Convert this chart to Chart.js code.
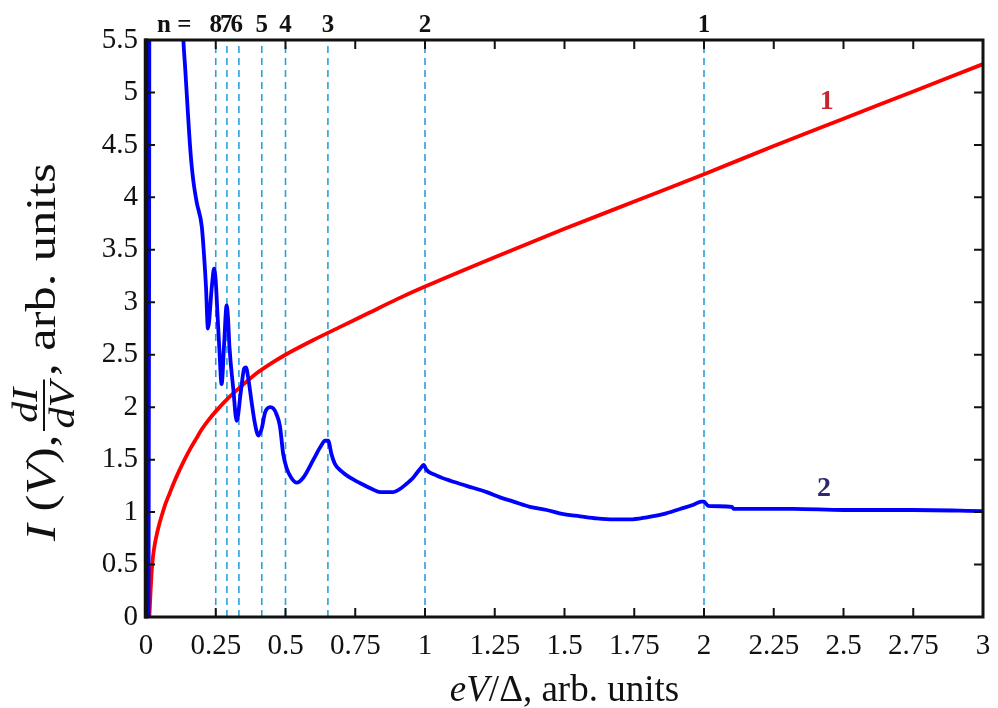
<!DOCTYPE html>
<html><head><meta charset="utf-8">
<script src="https://cdn.jsdelivr.net/npm/chart.js@4.4.0/dist/chart.umd.min.js"></script>
<style>html,body{margin:0;padding:0;background:#fff;}</style>
</head><body>
<canvas id="c" width="998" height="708"></canvas>
<script>
// ---- data ----
const redX = [0.012,0.016,0.02,0.024,0.03,0.038,0.047,0.058,0.07,0.085,0.1,0.12,0.14,0.16,0.18,0.2,0.225,0.25,0.3,0.35,0.4,0.45,0.5,0.6,0.7,0.8,0.9,1.0,1.25,1.5,1.75,2.0,2.25,2.5,2.75,3.0];
const redY = [0,0.22,0.42,0.55,0.67,0.78,0.88,0.98,1.08,1.18,1.28,1.4,1.51,1.61,1.7,1.79,1.88,1.96,2.1,2.22,2.33,2.42,2.5,2.64,2.77,2.9,3.03,3.15,3.43,3.7,3.96,4.22,4.49,4.75,5.01,5.27];

const blueX = [0.009,0.011,0.013,0.12,0.134,0.14,0.148,0.155,0.162,0.17,0.182,0.2,0.208,0.215,0.222,0.236,0.244,0.25,0.256,0.263,0.271,0.28,0.289,0.294,0.299,0.313,0.325,0.34,0.352,0.358,0.368,0.379,0.39,0.403,0.415,0.427,0.445,0.456,0.468,0.48,0.492,0.504,0.52,0.54,0.564,0.6,0.625,0.642,0.653,0.665,0.677,0.7,0.719,0.75,0.779,0.81,0.839,0.886,0.91,0.934,0.955,0.97,0.985,0.995,1.006,1.04,1.078,1.149,1.221,1.269,1.317,1.376,1.436,1.496,1.556,1.615,1.675,1.735,1.795,1.854,1.914,1.962,1.99,2.0,2.015,2.1,2.106,2.32,2.5,2.75,3.0];
const blueY = [0,3,8,6.6,5.5,5.25,4.9,4.6,4.35,4.15,3.95,3.72,3.45,3.15,2.75,3.15,3.32,3.2,2.9,2.55,2.22,2.6,2.97,2.85,2.58,2.17,1.87,2.15,2.37,2.38,2.25,2.04,1.85,1.73,1.8,1.95,2.0,1.99,1.93,1.82,1.55,1.42,1.33,1.28,1.33,1.5,1.62,1.68,1.68,1.55,1.46,1.39,1.35,1.3,1.26,1.22,1.19,1.19,1.22,1.27,1.32,1.37,1.42,1.45,1.4,1.35,1.31,1.25,1.19,1.14,1.1,1.05,1.02,0.98,0.96,0.94,0.93,0.93,0.95,0.98,1.03,1.07,1.1,1.1,1.06,1.05,1.03,1.03,1.02,1.02,1.01];

const nLabels = ['8','7','6','5','4','3','2','1'];
const nPositions = [0.25,0.29,0.333,0.415,0.5,0.652,1,2];

const curveLabels = ['1','2'];
const curveLabelX = [2.44,2.43];
const curveLabelY = [4.91,1.22];
const curveLabelColors = ['#c9232b','#2c2a6e'];

const xMin = 0, xMax = 3, xStep = 0.25;
const yMin = 0, yMax = 5.5, yStep = 0.5;

// ---- chart ----
const SERIF = "'Liberation Serif','Times New Roman',serif";
const pts = (xs, ys) => xs.map((x, i) => ({x, y: ys[i]}));
const fmt = v => String(Math.round(v * 100) / 100);

const datasets = [
  {label:'2', data: pts(blueX, blueY), borderColor:'#0000ff', borderWidth:3.8, pointRadius:0, cubicInterpolationMode:'monotone', order:0, clip:0},
  {label:'1', data: pts(redX, redY), borderColor:'#ff0000', borderWidth:3.8, pointRadius:0, cubicInterpolationMode:'monotone', order:1, clip:0}
];
nPositions.forEach((p, i) => {
  datasets.push({label:'n'+nLabels[i], data:[{x:p,y:yMin},{x:p,y:yMax}], borderColor:'#2f9fd6', borderWidth:1.6, borderDash:[7,5], pointRadius:0, order:5, clip:0});
});

function drawPieces(ctx, pieces, x, y) {
  let cx = x;
  pieces.forEach(p => { ctx.font = p.font; ctx.fillText(p.t, cx, y); cx += ctx.measureText(p.t).width; });
  return cx;
}
function piecesWidth(ctx, pieces) {
  let w = 0;
  pieces.forEach(p => { ctx.font = p.font; w += ctx.measureText(p.t).width; });
  return w;
}

const decor = {
  id:'decor',
  afterDraw(chart) {
    const ctx = chart.ctx, a = chart.chartArea;
    const xs = chart.scales.x, ys = chart.scales.y;
    ctx.save();
    ctx.strokeStyle = '#111'; ctx.fillStyle = '#111';
    ctx.lineWidth = 2;
    const tl = 9;
    xs.ticks.forEach(t => {
      const px = xs.getPixelForValue(t.value);
      ctx.beginPath();
      ctx.moveTo(px, a.bottom); ctx.lineTo(px, a.bottom - tl);
      ctx.moveTo(px, a.top); ctx.lineTo(px, a.top + tl);
      ctx.stroke();
    });
    ys.ticks.forEach(t => {
      const py = ys.getPixelForValue(t.value);
      ctx.beginPath();
      ctx.moveTo(a.left, py); ctx.lineTo(a.left + tl, py);
      ctx.moveTo(a.right, py); ctx.lineTo(a.right - tl, py);
      ctx.stroke();
    });
    ctx.lineWidth = 3;
    ctx.strokeRect(a.left, a.top, a.right - a.left, a.bottom - a.top);
    ctx.lineWidth = 4.5;
    ctx.beginPath(); ctx.moveTo(a.left, a.top - 1.5); ctx.lineTo(a.left, a.bottom + 1.5); ctx.stroke();

    // top n labels
    ctx.textBaseline = 'alphabetic';
    ctx.font = 'bold 25px ' + SERIF;
    ctx.textAlign = 'left';
    ctx.fillText('n =', 157, 32);
    ctx.textAlign = 'center';
    let prev = -1e9;
    nPositions.forEach((p, i) => {
      let px = xs.getPixelForValue(p);
      if (px <= prev + 13.5) px = Math.max(px - 3, prev + 10.5);
      ctx.fillText(nLabels[i], px, 32);
      prev = px;
    });

    // curve labels
    ctx.font = 'bold 28px ' + SERIF;
    ctx.textBaseline = 'middle';
    curveLabels.forEach((l, i) => {
      ctx.fillStyle = curveLabelColors[i];
      ctx.fillText(l, xs.getPixelForValue(curveLabelX[i]), ys.getPixelForValue(curveLabelY[i]));
    });

    // x axis title
    ctx.fillStyle = '#111';
    ctx.textBaseline = 'alphabetic';
    ctx.textAlign = 'left';
    const it = 'italic 37px ' + SERIF, rg = '37px ' + SERIF;
    const xt = [{t:'e',font:it},{t:'V',font:it},{t:'/',font:rg},{t:'\u0394',font:rg},{t:', arb. units',font:rg}];
    const w = piecesWidth(ctx, xt);
    drawPieces(ctx, xt, (a.left + a.right) / 2 - w / 2, 701);

    // y axis title (rotated, slightly stretched along its length as in the reference)
    const yit = 'italic 42px ' + SERIF, yrg = '42px ' + SERIF;
    const p1 = [{t:'I',font:yit},{t:' (',font:yrg},{t:'V',font:yit},{t:'),',font:yrg}];
    const p3 = [{t:', arb. units',font:yrg}];
    const fr = 'italic 35px ' + SERIF;
    ctx.font = fr;
    const numW = ctx.measureText('dI').width, denW = ctx.measureText('dV').width;
    const fracW = Math.max(numW, denW) + 10;
    const stretch = 1.2;
    const total = (piecesWidth(ctx, p1) + fracW + piecesWidth(ctx, p3)) * stretch;
    ctx.translate(55, 352 + total / 2);
    ctx.rotate(-Math.PI / 2);
    ctx.scale(stretch, 1);
    let cx = drawPieces(ctx, p1, 0, 0);
    ctx.font = fr;
    ctx.textAlign = 'center';
    const fc = cx + fracW / 2;
    ctx.fillText('dI', fc, -18);
    ctx.fillText('dV', fc, 19);
    ctx.lineWidth = 2;
    ctx.beginPath(); ctx.moveTo(fc - fracW / 2 + 3, -11); ctx.lineTo(fc + fracW / 2 - 3, -11); ctx.stroke();
    ctx.textAlign = 'left';
    drawPieces(ctx, p3, cx + fracW, 0);
    ctx.restore();
  }
};

new Chart(document.getElementById('c'), {
  type: 'line',
  data: { datasets },
  options: {
    responsive: false,
    animation: false,
    devicePixelRatio: 1,
    layout: { padding: 0 },
    plugins: { legend: { display: false }, tooltip: { enabled: false } },
    scales: {
      x: {
        type: 'linear', position: 'bottom', min: xMin, max: xMax,
        ticks: { stepSize: xStep, color: '#111', font: { family: SERIF, size: 29 }, padding: 12, maxRotation: 0, autoSkip: false, callback: fmt },
        grid: { display: false, drawTicks: false }, border: { display: false },
        afterFit: s => { s.height = 91; s.paddingLeft = 0; s.paddingRight = 0; }
      },
      x2: {
        type: 'linear', position: 'top', min: xMin, max: xMax,
        ticks: { display: false }, grid: { display: false, drawTicks: false }, border: { display: false },
        afterFit: s => { s.height = 40; s.paddingLeft = 0; s.paddingRight = 0; }
      },
      y: {
        type: 'linear', position: 'left', min: yMin, max: yMax,
        ticks: { stepSize: yStep, color: '#111', font: { family: SERIF, size: 29 }, padding: 8, autoSkip: false, callback: fmt },
        grid: { display: false, drawTicks: false }, border: { display: false },
        afterFit: s => { s.width = 146; s.paddingTop = 0; s.paddingBottom = 0; }
      },
      y2: {
        type: 'linear', position: 'right', min: yMin, max: yMax,
        ticks: { display: false }, grid: { display: false, drawTicks: false }, border: { display: false },
        afterFit: s => { s.width = 15; s.paddingTop = 0; s.paddingBottom = 0; }
      }
    }
  },
  plugins: [decor]
});
</script>
</body></html>
